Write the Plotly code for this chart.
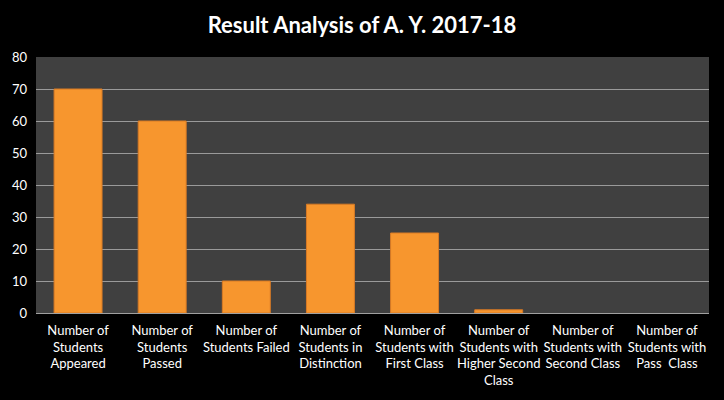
import plotly.graph_objects as go

# --- Data ---
categories = [
    "Number of<br>Students<br>Appeared",
    "Number of<br>Students<br>Passed",
    "Number of<br>Students Failed",
    "Number of<br>Students in<br>Distinction",
    "Number of<br>Students with<br>First Class",
    "Number of<br>Students with<br>Higher Second<br>Class",
    "Number of<br>Students with<br>Second Class",
    "Number of<br>Students with<br>Pass  Class",
]
counts = [70, 60, 10, 34, 25, 1, 0, 0]
y_ticks = [0, 10, 20, 30, 40, 50, 60, 70, 80]

BAR_COLOR = "#F7962E"
BAR_EDGE = "#D87A25"
FONT = "Lato"

# no outline on empty bars, so they stay invisible like the original
edge_widths = [1 if c > 0 else 0 for c in counts]

fig = go.Figure()
fig.add_trace(go.Bar(
    x=categories, y=counts,
    marker=dict(color=BAR_COLOR, line=dict(color=BAR_EDGE, width=edge_widths)),
    width=0.57,
))

fig.update_layout(
    width=724, height=400,
    paper_bgcolor="black", plot_bgcolor="#404040",
    margin=dict(l=36, r=15, t=57, b=83),
    title=dict(text="<b>Result Analysis of A. Y. 2017-18</b>",
               x=0.5, xanchor="center", y=0.938, yanchor="middle",
               font=dict(family=FONT, size=22, color="white")),
    font=dict(family=FONT, color="white", size=13),
    showlegend=False,
)
fig.update_xaxes(tickfont=dict(size=13, color="white"), showline=True,
                 linecolor="#a0a0a0", linewidth=1, ticks="", ticklabelstandoff=5)
fig.update_yaxes(range=[0, 80], tickvals=y_ticks, gridcolor="#9a9a9a", gridwidth=1,
                 tickfont=dict(size=13, color="white"), zeroline=False,
                 showline=False, ticks="", ticklabelstandoff=8)

# page body has a default margin; drop it so the figure fills the window
fig.write_html("out.html", config={"displayModeBar": False},
               post_script="document.body.style.margin='0';window.dispatchEvent(new Event('resize'));")
